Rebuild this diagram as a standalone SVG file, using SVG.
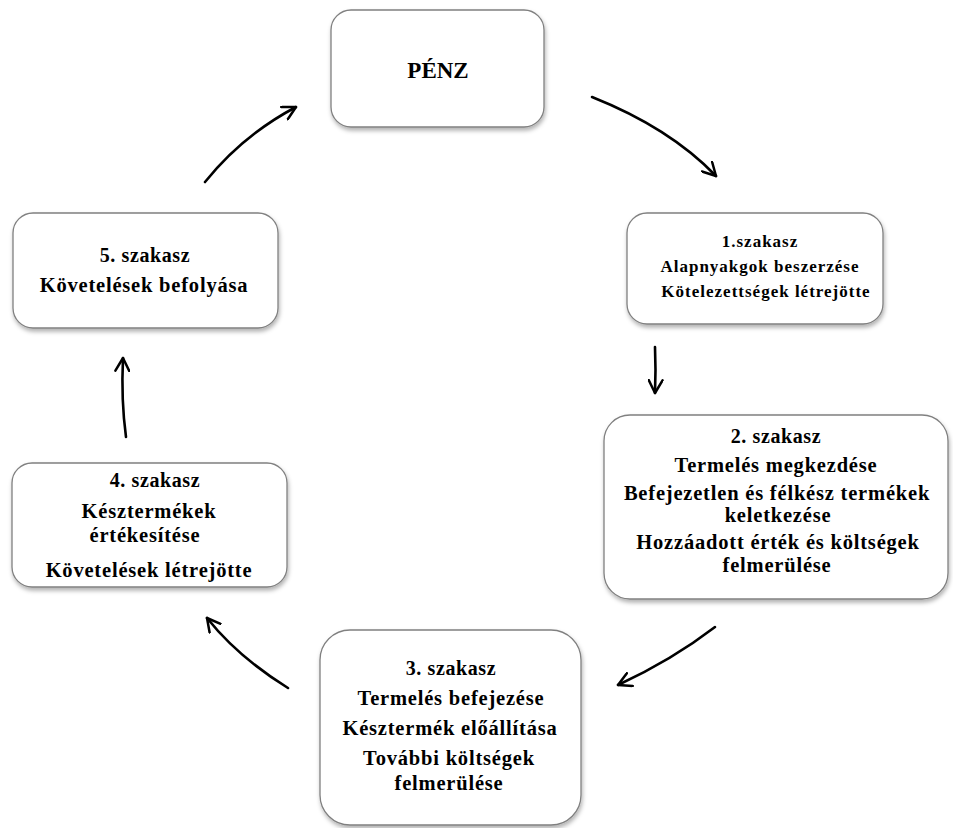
<svg xmlns="http://www.w3.org/2000/svg" width="953" height="828" viewBox="0 0 953 828">
<defs>
<filter id="sh" x="-10%" y="-10%" width="120%" height="125%">
<feDropShadow dx="1" dy="3" stdDeviation="2" flood-color="#000" flood-opacity="0.3"/>
</filter>
<marker id="ah" viewBox="0 0 16 16" refX="14" refY="8" markerWidth="16" markerHeight="16" markerUnits="userSpaceOnUse" orient="auto">
<path d="M1,1 L14,8 L1,15" fill="none" stroke="#000" stroke-width="2.5" stroke-linecap="round" stroke-linejoin="round"/>
</marker>
</defs>
<style>
.box{fill:#fff;stroke:#808080;stroke-width:1.3;filter:url(#sh)}
.t{font-family:"Liberation Serif","Times New Roman",serif;font-weight:bold;fill:#000;text-anchor:middle}
.s{font-size:17px;letter-spacing:1px}
.h{font-size:20px;letter-spacing:0.6px}
.m{font-size:20.5px;letter-spacing:0.8px}
.a{fill:none;stroke:#000;stroke-width:2.6;stroke-linecap:round;marker-end:url(#ah)}
</style>
<rect width="953" height="828" fill="#fff"/>
<g id="penz">
<rect class="box" x="331" y="10" width="213" height="117" rx="20"/>
<text class="t" x="438" y="78" font-size="23">PÉNZ</text>
</g>
<g id="szakasz1">
<rect class="box" x="627" y="213" width="256" height="111" rx="20"/>
<text class="t s" x="760" y="247">1.szakasz</text>
<text class="t s" x="760" y="272">Alapnyakgok beszerzése</text>
<text class="t s" x="766" y="297">Kötelezettségek létrejötte</text>
</g>
<g id="szakasz2">
<rect class="box" x="604" y="415" width="344" height="184" rx="26"/>
<text class="t h" x="776" y="443">2. szakasz</text>
<text class="t m" x="776" y="472">Termelés megkezdése</text>
<text class="t m" x="777" y="500">Befejezetlen és félkész termékek</text>
<text class="t m" x="778" y="522">keletkezése</text>
<text class="t m" x="778" y="549">Hozzáadott érték és költségek</text>
<text class="t m" x="777" y="572">felmerülése</text>
</g>
<g id="szakasz3">
<rect class="box" x="320" y="630" width="261" height="195" rx="30"/>
<text class="t h" x="451" y="675">3. szakasz</text>
<text class="t m" x="451" y="705">Termelés  befejezése</text>
<text class="t m" x="450" y="735">Késztermék előállítása</text>
<text class="t m" x="449" y="765">További költségek</text>
<text class="t m" x="449" y="790">felmerülése</text>
</g>
<g id="szakasz4">
<rect class="box" x="12" y="463" width="275" height="124" rx="20"/>
<text class="t h" x="155" y="487">4. szakasz</text>
<text class="t m" x="149" y="518">Késztermékek</text>
<text class="t m" x="145" y="542">értékesítése</text>
<text class="t m" x="149" y="577">Követelések létrejötte</text>
</g>
<g id="szakasz5">
<rect class="box" x="13" y="213" width="265" height="115" rx="20"/>
<text class="t h" x="145" y="262">5. szakasz</text>
<text class="t m" x="144" y="292">Követelések befolyása</text>
</g>
<g id="connectors">
<path class="a" d="M592,97 Q670,128 716,176"/>
<path class="a" d="M655,347 Q656,370 655,393"/>
<path class="a" d="M715,627 Q672,660 618,685"/>
<path class="a" d="M288,688 Q238,657 207,618"/>
<path class="a" d="M126,437 Q121,400 123,358"/>
<path class="a" d="M205,182 Q243,135 296,107"/>
</g>
</svg>
